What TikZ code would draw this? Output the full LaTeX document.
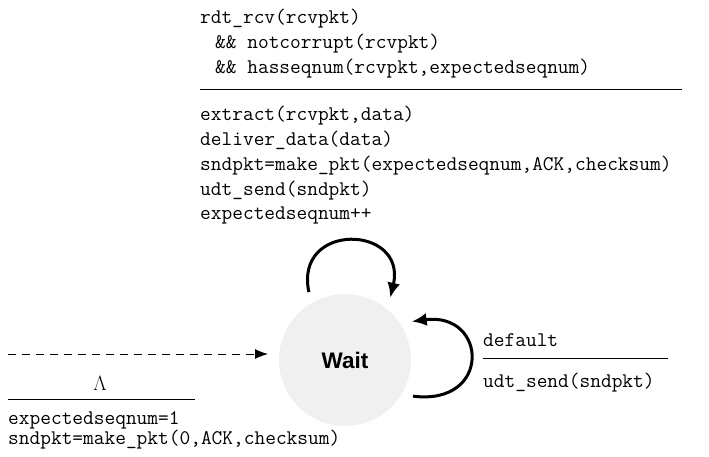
\documentclass[tikz,border=0pt]{standalone}
\usepackage{fontspec}
\newfontfamily\waitfont{Liberation Sans}
\usetikzlibrary{arrows.meta,positioning}

\begin{document}
\begin{tikzpicture}[x=1pt, y=-1pt,
    code/.style={anchor=base west, inner sep=0pt, font=\ttfamily\fontsize{20.8}{25}\selectfont},
    state/.style={circle, fill=black!6, minimum size=132pt, inner sep=0pt, outer sep=11pt, font=\waitfont\bfseries\fontsize{22.5}{24}\selectfont},
    selfloop/.style={line width=3pt, -{Latex[length=15pt,width=13pt]}},
    initarrow/.style={line width=1pt, dash pattern=on 8pt off 6pt, -{Latex[length=13pt,width=10pt]}}]
    \useasboundingbox (0,0) rectangle (709,456);
    \node[state] (wait) at (345,360) {Wait};
    % rdt_rcv with expected seqnum
    \node[code] (guard1) at (200,23) {rdt\_rcv(rcvpkt)};
    \node[code] (guard2) at (215,48) {\&\& notcorrupt(rcvpkt)};
    \node[code] (guard3) at (215,73) {\&\& hasseqnum(rcvpkt,expectedseqnum)};
    \draw (200,89) -- (682,89);
    \node[code] (act1) at (200,120) {extract(rcvpkt,data)};
    \node[code] (act2) at (200,145) {deliver\_data(data)};
    \node[code] (act3) at (200,170) {sndpkt=make\_pkt(expectedseqnum,ACK,checksum)};
    \node[code] (act4) at (200,195) {udt\_send(sndpkt)};
    \node[code] (act5) at (200,219) {expectedseqnum++};
    \draw[selfloop] (wait.118) .. controls +(-15,-71) and +(17,-73) .. (wait.54);
    % default
    \node[code] (dflt) at (483,346) {default};
    \draw (483,358) -- (668,358);
    \node[code] (resend) at (483,387) {udt\_send(sndpkt)};
    \draw[selfloop] (wait.-28) .. controls +(79,10) and +(76,-10) .. (wait.30);
    % initial
    \coordinate (init) at (8,354);
    \draw[initarrow] (init) -- (init -| wait.west);
    \node[anchor=base, inner sep=0pt, font=\fontsize{20}{20}\selectfont] (lambda) at (100,390) {$\Lambda$};
    \draw (8,399) -- (195,399);
    \node[code] (init1) at (8,424) {expectedseqnum=1};
    \node[code] (init2) at (8,444) {sndpkt=make\_pkt(0,ACK,checksum)};
\end{tikzpicture}
\end{document}
